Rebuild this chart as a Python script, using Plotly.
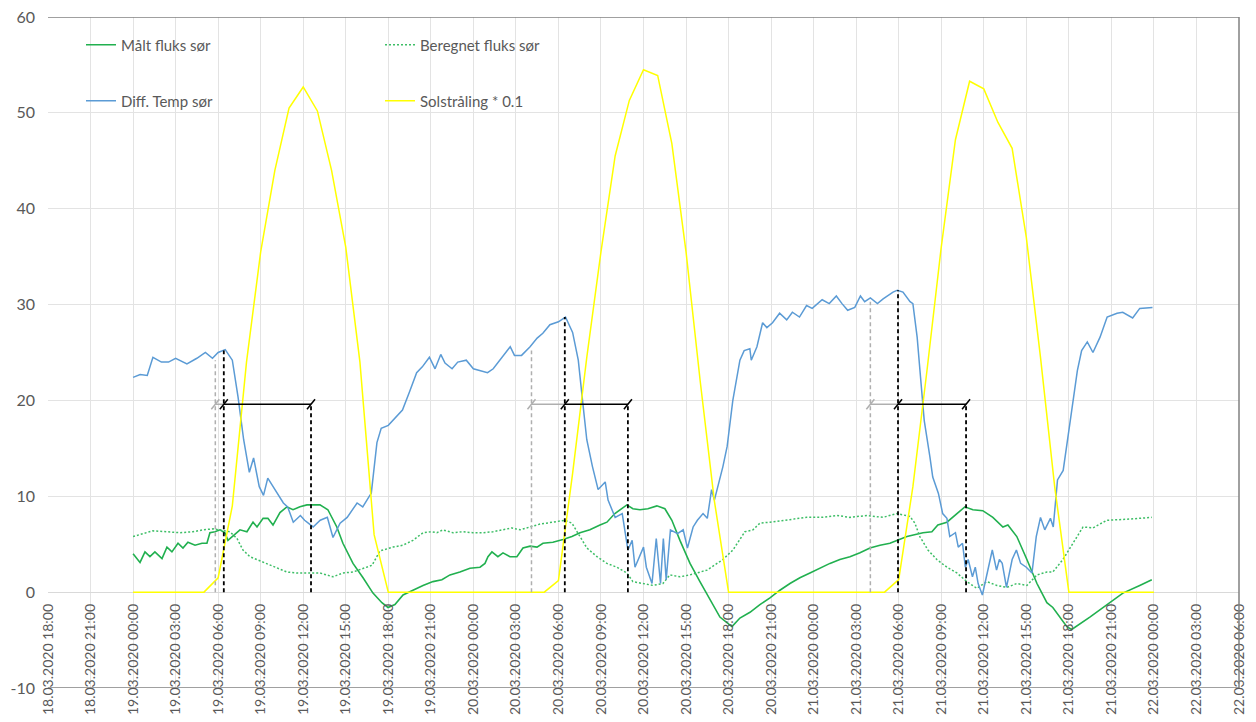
import pandas as pd
import plotly.graph_objects as go

# Time axis: hours after 19.03.2020 00:00
START = pd.Timestamp("2020-03-19 00:00")

# Diff. Temp sør
temp_h = [0, 0.5, 1.0, 1.4, 2.0, 2.5, 3.0, 3.8, 4.5, 5.1, 5.6, 6.0, 6.5, 7.0, 7.4, 7.8, 8.2, 8.5,
          8.9, 9.2, 9.5, 10.2, 10.6, 10.9, 11.3, 11.8, 12.1, 12.7, 13.2, 13.7, 14.1, 14.6, 15.1,
          15.8, 16.2, 16.7, 16.8, 17.2, 17.5, 18.0, 18.5, 19.0, 19.5, 20.0, 20.4, 20.9, 21.3,
          21.7, 22.0, 22.5, 22.9, 23.5, 24.0, 24.6, 25.0, 25.4, 26.0, 26.6, 26.9, 27.4, 28.0,
          28.5, 28.9, 29.4, 30.0, 30.5, 31.0, 31.4, 31.7, 32.0, 32.4, 32.8, 33.3, 33.5, 34.0,
          34.5, 34.9, 35.2, 35.4, 36.0, 36.2, 36.6, 36.9, 37.2, 37.4, 37.6, 37.9, 38.4, 38.8,
          39.1, 39.5, 39.8, 40.2, 40.5, 40.8, 41.0, 41.6, 41.9, 42.3, 42.8, 43.1, 43.5, 43.6,
          44.0, 44.4, 44.7, 45.1, 45.6, 46.1, 46.5, 47.0, 47.5, 47.9, 48.6, 49.1, 49.6, 50.0,
          50.4, 50.9, 51.3, 51.6, 52.0, 52.5, 52.9, 53.6, 53.9, 54.3, 54.8, 55.0, 55.3, 55.5,
          55.8, 56.2, 56.4, 56.8, 57.1, 57.4, 57.6, 58.0, 58.2, 58.5, 58.7, 58.9, 59.2, 59.4,
          59.6, 59.9, 60.3, 60.6, 60.9, 61.1, 61.3, 61.6, 62.0, 62.3, 62.6, 63.0, 63.4, 63.7,
          64.0, 64.3, 64.7, 64.9, 65.2, 65.6, 66.1, 66.6, 66.9, 67.3, 67.7, 68.2, 68.7, 69.4,
          69.8, 70.5, 71.0, 71.9]
temp_v = [22.4, 22.7, 22.6, 24.5, 24.0, 24.0, 24.4, 23.8, 24.4, 25.0, 24.4, 25.0, 25.3, 24.2,
          20.4, 15.9, 12.5, 14.0, 11.0, 10.1, 11.9, 10.3, 9.3, 8.9, 7.3, 8.0, 7.5, 6.8, 7.5, 7.8,
          5.7, 7.2, 7.8, 9.3, 8.9, 10.1, 10.3, 15.6, 17.1, 17.4, 18.2, 19.0, 20.9, 22.9, 23.5,
          24.5, 23.3, 24.8, 23.9, 23.3, 24.0, 24.2, 23.3, 23.1, 22.9, 23.3, 24.4, 25.6, 24.7,
          24.7, 25.6, 26.5, 27.0, 27.9, 28.2, 28.7, 27.1, 24.2, 20.0, 15.9, 13.1, 10.7, 11.5,
          9.6, 7.8, 8.2, 4.4, 5.4, 2.6, 4.7, 2.6, 0.9, 5.6, 0.9, 5.6, 1.3, 6.5, 6.1, 6.5, 4.6,
          6.8, 7.5, 8.2, 7.7, 10.7, 9.6, 13.1, 15.2, 20.0, 24.2, 25.2, 25.4, 24.2, 25.6, 28.1,
          27.6, 28.1, 29.1, 28.4, 29.2, 28.7, 29.9, 29.6, 30.5, 30.1, 30.9, 30.1, 29.4, 29.7,
          30.9, 30.3, 30.7, 30.1, 30.6, 31.3, 31.5, 31.3, 30.3, 30.1, 26.6, 23.1, 17.9, 14.1,
          12.0, 10.3, 8.2, 7.7, 5.8, 6.2, 4.7, 5.1, 2.6, 3.4, 1.6, 2.6, 0.9, -0.3, 2.3, 4.4,
          2.3, 3.4, 3.0, 0.5, 3.4, 4.4, 3.0, 2.6, 2.0, 5.8, 7.8, 6.5, 7.7, 6.8, 11.7, 12.7,
          17.9, 23.1, 25.2, 26.1, 25.0, 26.6, 28.7, 29.1, 29.2, 28.6, 29.6, 29.7]

# Målt fluks sør
meas_h = [0, 0.49, 0.84, 1.19, 1.54, 2.04, 2.39, 2.74, 3.17, 3.52, 3.87, 4.37, 4.86, 5.21, 5.42,
          5.78, 6.13, 6.48, 6.69, 7.05, 7.54, 8.03, 8.46, 8.74, 9.17, 9.51, 9.87, 10.36, 10.85,
          11.28, 11.77, 12.26, 13.18, 13.74, 14.37, 14.80, 15.51, 16.22, 16.92, 17.55, 17.98,
          18.47, 19.04, 19.74, 20.45, 21.15, 21.78, 22.35, 23.05, 23.76, 24.47, 24.82, 25.03,
          25.31, 25.73, 26.09, 26.58, 27.07, 27.50, 28.0, 28.49, 28.91, 29.61, 30.32, 30.95,
          31.52, 32.22, 32.93, 33.42, 33.98, 34.48, 34.83, 35.25, 35.75, 36.31, 36.94, 37.51,
          38.0, 38.57, 39.28, 39.98, 40.69, 41.39, 42.24, 42.80, 43.51, 44.21, 44.92, 45.62,
          46.33, 47.03, 47.74, 48.44, 49.15, 49.85, 50.56, 51.27, 51.97, 52.68, 53.38, 54.58,
          55.71, 56.34, 56.76, 57.40, 57.96, 58.67, 59.23, 59.93, 60.64, 61.35, 61.70, 62.33,
          63.04, 63.75, 64.45, 64.87, 65.86, 66.2, 67.48, 68.68, 69.81, 71.0, 71.85]
meas_v = [4.0, 3.1, 4.2, 3.7, 4.2, 3.5, 4.7, 4.2, 5.1, 4.6, 5.2, 4.9, 5.1, 5.1, 6.2, 6.3, 6.5,
          6.2, 5.4, 5.9, 6.5, 6.3, 7.3, 6.8, 7.7, 7.7, 7.0, 8.3, 8.9, 8.6, 8.9, 9.1, 9.1, 8.6,
          6.8, 5.1, 3.0, 1.5, -0.1, -1.1, -1.6, -1.3, -0.3, 0.2, 0.7, 1.1, 1.3, 1.8, 2.1, 2.5,
          2.6, 3.0, 3.7, 4.2, 3.7, 4.1, 3.7, 3.7, 4.6, 4.8, 4.7, 5.1, 5.2, 5.5, 5.8, 6.2, 6.5,
          7.0, 7.3, 8.2, 8.7, 9.1, 8.7, 8.6, 8.7, 9.0, 8.7, 7.5, 5.4, 3.0, 1.1, -0.7, -2.6,
          -3.6, -2.7, -2.1, -1.3, -0.6, 0.2, 0.9, 1.5, 2.0, 2.5, 3.0, 3.4, 3.7, 4.1, 4.6, 4.9,
          5.1, 5.8, 6.2, 6.3, 7.0, 7.3, 8.0, 8.9, 8.6, 8.5, 7.8, 6.8, 7.0, 5.8, 3.4, 0.9, -1.1,
          -1.6, -3.6, -3.9, -2.6, -1.3, -0.1, 0.7, 1.3]

# Beregnet fluks sør
calc_h = [0, 0.70, 1.40, 2.39, 3.31, 4.22, 4.93, 5.64, 6.13, 6.83, 7.33, 7.75, 8.24, 8.74, 9.44,
          10.15, 10.85, 11.56, 12.26, 13.18, 14.10, 14.80, 15.51, 16.22, 16.85, 17.41, 18.33,
          19.04, 19.74, 20.45, 21.08, 21.43, 21.85, 22.56, 23.26, 23.97, 24.68, 25.38, 26.09,
          26.72, 27.29, 27.99, 28.70, 29.61, 30.46, 30.95, 31.38, 32.01, 32.72, 33.42, 34.13,
          34.83, 35.25, 35.96, 36.67, 37.37, 37.86, 38.57, 39.28, 40.48, 41.60, 42.31, 43.15,
          43.72, 44.21, 44.92, 46.11, 47.52, 48.66, 49.64, 50.56, 51.76, 52.89, 53.87, 54.79,
          55.14, 55.49, 56.06, 56.69, 57.40, 58.10, 58.81, 59.51, 60.22, 60.92, 61.63, 62.33,
          63.04, 63.75, 64.45, 64.87, 65.58, 66.29, 67.0, 67.70, 68.68, 70.09, 71.0, 71.85]
calc_v = [5.8, 6.1, 6.4, 6.3, 6.2, 6.3, 6.5, 6.6, 6.5, 6.3, 5.6, 4.4, 3.7, 3.4, 3.0, 2.5, 2.1,
          2.0, 2.0, 2.0, 1.6, 2.0, 2.1, 2.5, 2.8, 4.3, 4.7, 4.9, 5.4, 6.2, 6.3, 6.2, 6.5, 6.2,
          6.3, 6.2, 6.2, 6.3, 6.5, 6.7, 6.5, 6.8, 7.1, 7.3, 7.5, 7.2, 6.2, 4.6, 3.7, 3.0, 2.6,
          2.0, 1.1, 0.9, 0.7, 0.9, 1.8, 1.6, 1.8, 2.3, 3.4, 4.4, 6.3, 6.5, 7.2, 7.3, 7.5, 7.8,
          7.8, 8.0, 7.8, 8.0, 7.8, 8.2, 7.9, 7.2, 5.8, 4.4, 3.4, 2.6, 2.0, 1.1, 0.4, 1.1, 0.7,
          0.5, 0.9, 0.7, 1.8, 2.1, 2.1, 3.4, 5.1, 6.8, 6.7, 7.5, 7.6, 7.7, 7.8]

# Solstråling * 0.1, hourly
sun_h = list(range(0, 73))
sun_v = [0, 0, 0, 0, 0, 0, 1.5, 9.0, 24.0, 35.5, 44.0, 50.5, 52.7, 50.2, 44.0, 36.0, 24.0, 6.0,
         0, 0, 0, 0, 0, 0,
         0, 0, 0, 0, 0, 0, 1.2, 12.4, 24.5, 35.5, 45.5, 51.3, 54.5, 53.9, 46.8, 35.5, 22.0, 9.5,
         0, 0, 0, 0, 0, 0,
         0, 0, 0, 0, 0, 0, 1.3, 11.0, 23.2, 36.0, 47.2, 53.3, 52.5, 49.0, 46.3, 37.0, 24.5, 11.0,
         0, 0, 0, 0, 0, 0, 0]

# Time-lag markers for each day (hours) and their heights
ref_h = [5.8, 28.1, 52.0]        # grey reference line
ref_top = [24.2, 25.2, 30.3]
peak_h = [6.4, 30.45, 53.95]     # temperature peak
peak_top = [25.2, 28.7, 31.5]
resp_h = [12.55, 34.9, 58.75]    # flux response
lag_level = 19.6

x_ticks_start = "2020-03-18 18:00"
x_ticks_end = "2020-03-22 06:00"
y_tick_vals = [-10, 0, 10, 20, 30, 40, 50, 60]
y_tick_text = ["-10", "0", "10", "20", "30", "40", "50", "60"]


def at(hours):
    return [START + pd.Timedelta(hours=h) for h in hours]


GREEN = "#21B04F"
GREEN_LIGHT = "#3DBE66"
BLUE = "#5B9BD5"
YELLOW = "#FFFF00"
GREY_TXT = "#595959"

fig = go.Figure()
fig.add_trace(go.Scatter(x=at(meas_h), y=meas_v, mode="lines", name="Målt fluks sør",
                         line=dict(color=GREEN, width=1.6), legend="legend"))
fig.add_trace(go.Scatter(x=at(calc_h), y=calc_v, mode="lines", name="Beregnet fluks sør",
                         line=dict(color=GREEN_LIGHT, width=1.5, dash="2px,2px"), legend="legend"))
fig.add_trace(go.Scatter(x=at(temp_h), y=temp_v, mode="lines", name="Diff. Temp sør",
                         line=dict(color=BLUE, width=1.5), legend="legend2"))
fig.add_trace(go.Scatter(x=at(sun_h), y=sun_v, mode="lines", name="Solstråling * 0.1",
                         line=dict(color=YELLOW, width=1.5), legend="legend2"))

shapes = []
# frame lines at 60 and -10 and on the right edge
for yv in (60, -10):
    shapes.append(dict(type="line", xref="paper", yref="y", x0=0, x1=1, y0=yv, y1=yv,
                       line=dict(color="#808080", width=1.5), layer="above"))
shapes.append(dict(type="line", xref="paper", yref="y", x0=1, x1=1, y0=-10, y1=60,
                   line=dict(color="#808080", width=1.5), layer="above"))

GREY_LINE = "#AFAFAF"
for rh, rt, ph, pt, eh in zip(ref_h, ref_top, peak_h, peak_top, resp_h):
    rx, px_, ex = at([rh])[0], at([ph])[0], at([eh])[0]
    shapes.append(dict(type="line", x0=rx, x1=rx, y0=0, y1=rt,
                       line=dict(color=GREY_LINE, width=1.5, dash="4px,3px"), layer="above"))
    shapes.append(dict(type="line", x0=rx, x1=px_, y0=lag_level, y1=lag_level,
                       line=dict(color=GREY_LINE, width=1.5), layer="above"))
    shapes.append(dict(type="line", x0=px_, x1=px_, y0=0, y1=pt,
                       line=dict(color="black", width=1.8, dash="4px,3px"), layer="above"))
    shapes.append(dict(type="line", x0=px_, x1=ex, y0=lag_level, y1=lag_level,
                       line=dict(color="black", width=1.5), layer="above"))
    shapes.append(dict(type="line", x0=ex, x1=ex, y0=0, y1=lag_level,
                       line=dict(color="black", width=1.8, dash="4px,3px"), layer="above"))
    # slanted end marks
    for xa, col in ((rx, GREY_LINE), (px_, "black"), (ex, "black")):
        shapes.append(dict(type="line", xsizemode="pixel", ysizemode="pixel",
                           xanchor=xa, yanchor=lag_level, x0=-4, x1=4, y0=-5, y1=5,
                           line=dict(color=col, width=1.5), layer="above"))

fig.update_layout(
    width=1256, height=722,
    margin=dict(l=48, r=17, t=17, b=34),
    paper_bgcolor="white", plot_bgcolor="white",
    font=dict(family="Lato, Open Sans, sans-serif", color=GREY_TXT),
    showlegend=True,
    shapes=shapes,
    legend=dict(orientation="h", x=(81 - 48) / 1191, y=(688 - 45) / 671,
                xanchor="left", yanchor="middle", entrywidth=254, entrywidthmode="pixels",
                bgcolor="rgba(0,0,0,0)", font=dict(size=15, color=GREY_TXT)),
    legend2=dict(orientation="h", x=(81 - 48) / 1191, y=(688 - 101) / 671,
                 xanchor="left", yanchor="middle", entrywidth=254, entrywidthmode="pixels",
                 bgcolor="rgba(0,0,0,0)", font=dict(size=15, color=GREY_TXT)),
)

fig.update_xaxes(
    type="date", range=[x_ticks_start, x_ticks_end],
    tick0=x_ticks_start, dtick=3 * 3600 * 1000, tickformat="%d.%m.%Y %H:%M",
    tickangle=-90, anchor="free", position=10 / 70, automargin=False,
    showgrid=True, gridcolor="#E3E3E3", gridwidth=1, zeroline=False, showline=False,
    ticks="", ticklabelstandoff=8, tickfont=dict(size=14, color=GREY_TXT),
)
fig.update_yaxes(
    range=[-10, 60], tickmode="array", tickvals=y_tick_vals, ticktext=y_tick_text,
    showgrid=True, gridcolor="#E3E3E3", gridwidth=1,
    zeroline=True, zerolinecolor="#D9D9D9", zerolinewidth=1.2, showline=False,
    ticks="", ticklabelstandoff=12, automargin=False, tickfont=dict(size=16, color=GREY_TXT),
)

fig.write_html("out.html")
